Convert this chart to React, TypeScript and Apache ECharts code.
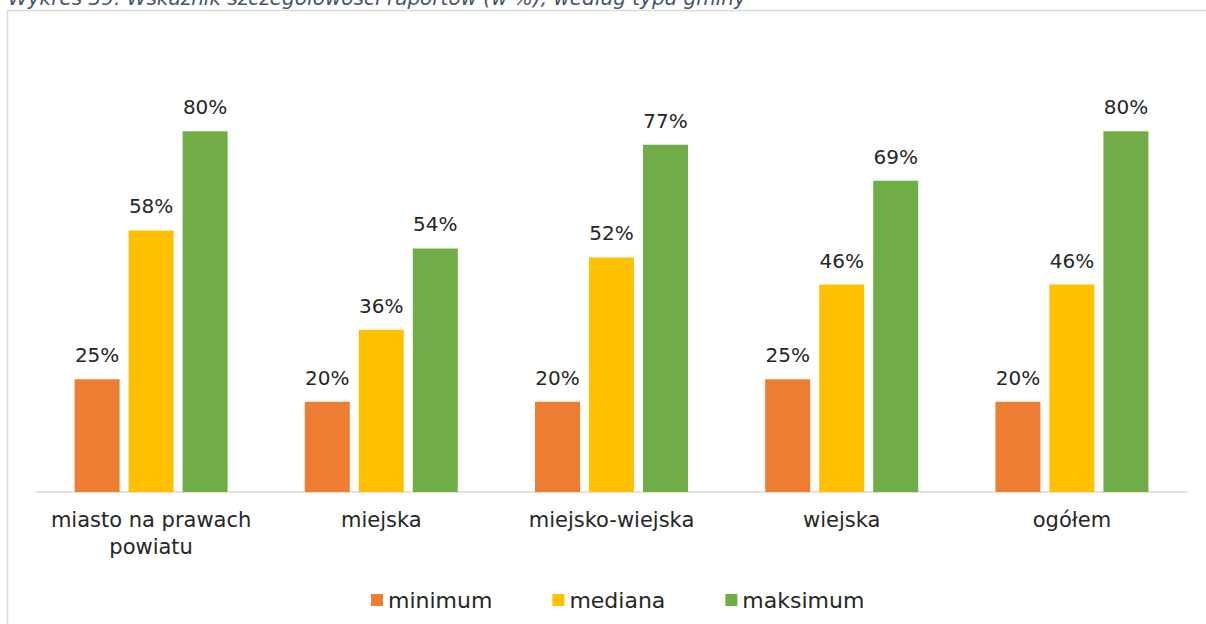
import React, { useEffect, useRef } from "react";
import * as echarts from "echarts";

const categories = ["miasto na prawach powiatu", "miejska", "miejsko-wiejska", "wiejska", "ogółem"];
const minimum = [25, 20, 20, 25, 20];
const mediana = [58, 36, 52, 46, 46];
const maksimum = [80, 54, 77, 69, 80];
const seriesNames = ["minimum", "mediana", "maksimum"];
const colors = ["#ED7D31", "#FFC000", "#70AD47"];
const titleText = "Wykres 39. Wskaźnik szczegółowości raportów (w %), według typu gminy";

const FONT = "DejaVu Sans";

export default function App() {
  const ref = useRef<HTMLDivElement>(null);
  useEffect(() => {
    if (!ref.current) return;
    const chart = echarts.init(ref.current, undefined, { renderer: "svg" });
    const values = [minimum, mediana, maksimum];
    chart.setOption({
      animation: false,
      textStyle: { fontFamily: FONT },
      graphic: [
        {
          type: "rect",
          shape: { x: 7.5, y: 10.5, width: 1400, height: 800 },
          style: { fill: "none", stroke: "#d9d9d9", lineWidth: 1.5 },
          silent: true,
        },
        {
          type: "text",
          x: 8,
          y: 8,
          style: {
            text: titleText,
            fontFamily: FONT,
            fontSize: 20,
            fontStyle: "italic",
            fill: "#44546A",
            verticalAlign: "bottom",
          },
        },
      ],
      legend: {
        left: 366,
        top: 584,
        icon: "rect",
        itemWidth: 12,
        itemHeight: 12,
        itemGap: 60,
        data: seriesNames,
        textStyle: { fontFamily: FONT, fontSize: 22, color: "#262626", padding: [0, 0, 0, 0] },
      },
      grid: { left: 36, right: 19, top: 41, bottom: 132, containLabel: false },
      xAxis: {
        type: "category",
        data: categories,
        axisLine: { lineStyle: { color: "#d9d9d9", width: 1.5 } },
        axisTick: { show: false },
        axisLabel: {
          interval: 0,
          fontFamily: FONT,
          fontSize: 21,
          color: "#262626",
          margin: 14,
          lineHeight: 27,
          formatter: (v: string) => v.replace("na prawach ", "na prawach\n"),
        },
      },
      yAxis: { type: "value", min: 0, max: 100, show: false, splitLine: { show: false } },
      series: seriesNames.map((name, i) => ({
        name,
        type: "bar",
        data: values[i],
        barWidth: 45,
        barGap: "20%",
        itemStyle: { color: colors[i] },
        label: {
          show: true,
          position: "top",
          distance: 14,
          formatter: "{c}%",
          fontFamily: FONT,
          fontSize: 20,
          color: "#262626",
        },
      })),
    });
    return () => chart.dispose();
  }, []);
  return <div ref={ref} style={{ position: "absolute", left: 0, top: 0, width: 1206, height: 624 }} />;
}
